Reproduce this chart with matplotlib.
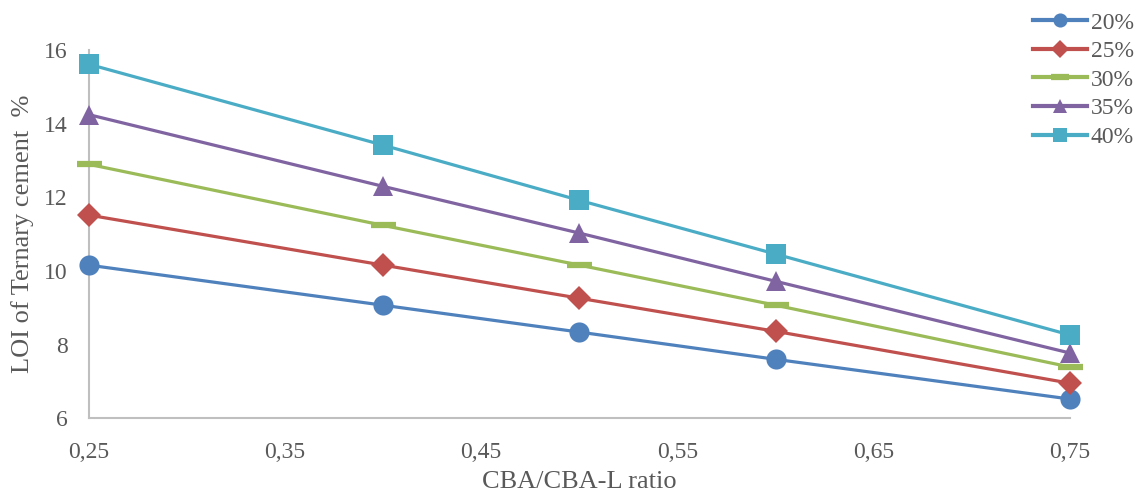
import numpy as np
import matplotlib
matplotlib.use("Agg")
import matplotlib.pyplot as plt

plt.rcParams['font.family'] = ['Liberation Serif', 'DejaVu Serif']

# CBA/CBA-L ratio and LOI values
ratio = [0.25, 0.40, 0.50, 0.60, 0.75]
loi_20 = [10.16, 9.07, 8.34, 7.60, 6.52]
loi_25 = [11.52, 10.16, 9.26, 8.36, 6.95]
loi_30 = [12.90, 11.24, 10.16, 9.07, 7.39]
loi_35 = [14.25, 12.30, 11.03, 9.72, 7.77]
loi_40 = [15.62, 13.42, 11.92, 10.46, 8.26]
labels = ['20%', '25%', '30%', '35%', '40%']
xticks = [0.25, 0.35, 0.45, 0.55, 0.65, 0.75]

colors = ['#4F81BD', '#C0504D', '#9BBB59', '#8064A2', '#4BACC6']
markers = ['o', 'D', '_', '^', 's']
sizes = [14.5, 12.5, 18, 14, 14.5]

fig = plt.figure(figsize=(11.36, 4.92), dpi=100)
ax = fig.add_axes([0.078, 0.150, 0.864, 0.748])

series = [loi_20, loi_25, loi_30, loi_35, loi_40]
for y, lab, c, m, s in zip(series, labels, colors, markers, sizes):
    ax.plot(ratio, y, color=c, lw=2.3, marker=m, ms=s, mew=(4.5 if m == '_' else 0),
            mec=c, label=lab, clip_on=False, zorder=3)

ax.set_xlim(0.25, 0.75)
ax.set_ylim(6, 16)
ax.set_xticks(xticks)
ax.set_xticklabels([('%.2f' % t).replace('.', ',') for t in xticks])
ax.set_yticks([6, 8, 10, 12, 14, 16])

for side in ['top', 'right']:
    ax.spines[side].set_visible(False)
for side in ['left', 'bottom']:
    ax.spines[side].set_color('#BFBFBF')
    ax.spines[side].set_linewidth(1.5)
ax.tick_params(length=0, labelsize=17, labelcolor='#595959')
ax.tick_params(axis='y', pad=15)
ax.tick_params(axis='x', pad=17)

ax.set_xlabel('CBA/CBA-L ratio', fontsize=19, color='#595959', labelpad=6)
ax.set_ylabel('LOI of Ternary cement  %', fontsize=19, color='#595959', labelpad=7)

leg = ax.legend(loc='upper left', bbox_to_anchor=(1033 / 1136, 1 - 12 / 492),
                bbox_transform=fig.transFigure, frameon=False, fontsize=17,
                borderaxespad=0, borderpad=0, handlelength=2.3, handletextpad=0.15,
                labelspacing=0.3, markerscale=0.7)
for line in leg.get_lines():
    line.set_linewidth(3)
for t in leg.get_texts():
    t.set_color('#595959')

fig.savefig('out.png', dpi=100)
